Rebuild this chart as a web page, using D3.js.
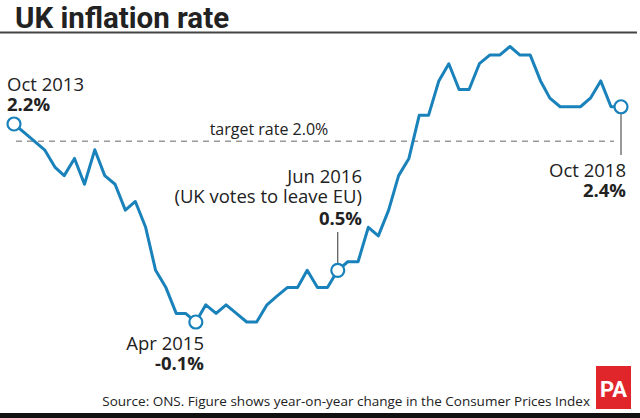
<!DOCTYPE html>
<html><head><meta charset="utf-8">
<script src="https://cdn.jsdelivr.net/npm/d3@7"></script>
<style>body{margin:0;background:#fff}svg{display:block}text{font-family:"Open Sans",sans-serif;fill:#222}</style>
</head><body><svg id="c" width="640" height="418"></svg>
<script>
const months = d3.range(61).map(i => new Date(2013, 9 + i, 1));
const values = [2.2,2.1,2.0,
 1.9,1.7,1.6,1.8,1.5,1.9,1.6,1.5,1.2,1.3,1.0,0.5,
 0.3,0.0,0.0,-0.1,0.1,0.0,0.1,0.0,-0.1,-0.1,0.1,0.2,
 0.3,0.3,0.5,0.3,0.3,0.5,0.6,0.6,1.0,0.9,1.2,1.6,
 1.8,2.3,2.3,2.7,2.9,2.6,2.6,2.9,3.0,3.0,3.1,3.0,
 3.0,2.7,2.5,2.4,2.4,2.4,2.5,2.7,2.4,2.4];
const target = 2.0;
const annotations = [
 {i:0, lines:["Oct 2013"], value:"2.2%"},
 {i:18, lines:["Apr 2015"], value:"-0.1%"},
 {i:32, lines:["Jun 2016","(UK votes to leave EU)"], value:"0.5%"},
 {i:60, lines:["Oct 2018"], value:"2.4%"}
];
const title = "UK inflation rate";
const source = "Source: ONS. Figure shows year-on-year change in the Consumer Prices Index";

const svg = d3.select("#c");
const blue = "#1a82bb";
const x = d3.scaleTime().domain([months[0], months[60]]).range([14, 621]);
const y = d3.scaleLinear().domain([0, 3]).range([313.4, 55.1]);
const data = months.map((m,i)=>({m, v:values[i]}));

svg.append("text").attr("x",15).attr("y",27.5).attr("font-size",29.5).attr("font-weight",700)
  .style("font-family","Roboto,sans-serif").style("fill","#222").text(title);
svg.append("line").attr("x1",0).attr("x2",637).attr("y1",32.5).attr("y2",32.5).attr("stroke","#444").attr("stroke-width",2);

svg.append("line").attr("x1",16).attr("x2",614).attr("y1",y(target)).attr("y2",y(target))
  .attr("stroke","#999").attr("stroke-width",1.5).attr("stroke-dasharray","6,5");
svg.append("text").attr("x",269).attr("y",135).attr("text-anchor","middle").attr("font-size",16).text("target rate " + target.toFixed(1) + "%");

svg.append("path").datum(data).attr("fill","none").attr("stroke",blue).attr("stroke-width",3)
  .attr("stroke-linejoin","round")
  .attr("d", d3.line().x(d=>x(d.m)).y(d=>y(d.v)));

// leader lines
const a2 = annotations[2], a3 = annotations[3];
svg.append("line").attr("x1",x(months[a2.i])).attr("x2",x(months[a2.i])).attr("y1",232).attr("y2",y(values[a2.i])-6).attr("stroke","#333").attr("stroke-width",1);
svg.append("line").attr("x1",x(months[a3.i])).attr("x2",x(months[a3.i])).attr("y1",y(values[a3.i])+6).attr("y2",155).attr("stroke","#333").attr("stroke-width",1);

annotations.forEach(a=>{
  svg.append("circle").attr("cx",x(months[a.i])).attr("cy",y(values[a.i])).attr("r",6.5)
    .attr("fill","#fff").attr("stroke",blue).attr("stroke-width",2.2);
});

function label(a, tx, ys, anchor){
  const t = svg.append("text").attr("text-anchor",anchor).attr("font-size",18.5);
  a.lines.forEach((l,k)=>t.append("tspan").attr("x",tx).attr("y",ys[k]).text(l));
  t.append("tspan").attr("x",tx).attr("y",ys[ys.length-1]).attr("font-weight",700).text(a.value);
}
label(annotations[0], 7, [91,111], "start");
label(annotations[1], 204, [350,370], "end");
label(annotations[2], 362, [183,203,225], "end");
label(annotations[3], 626, [177,197], "end");

svg.append("text").attr("x",590).attr("y",406).attr("text-anchor","end").attr("font-size",13.5).text(source);
svg.append("rect").attr("x",596).attr("y",366).attr("width",35).attr("height",43).attr("fill","#e0262b");
svg.append("text").attr("x",613.5).attr("y",397).attr("text-anchor","middle").attr("font-size",22).attr("font-weight",700)
  .style("font-family","'Liberation Sans Narrow','Roboto',sans-serif").style("fill","#fff").text("PA");
svg.append("rect").attr("x",0).attr("y",413).attr("width",640).attr("height",5).attr("fill","#111");
</script></body></html>
